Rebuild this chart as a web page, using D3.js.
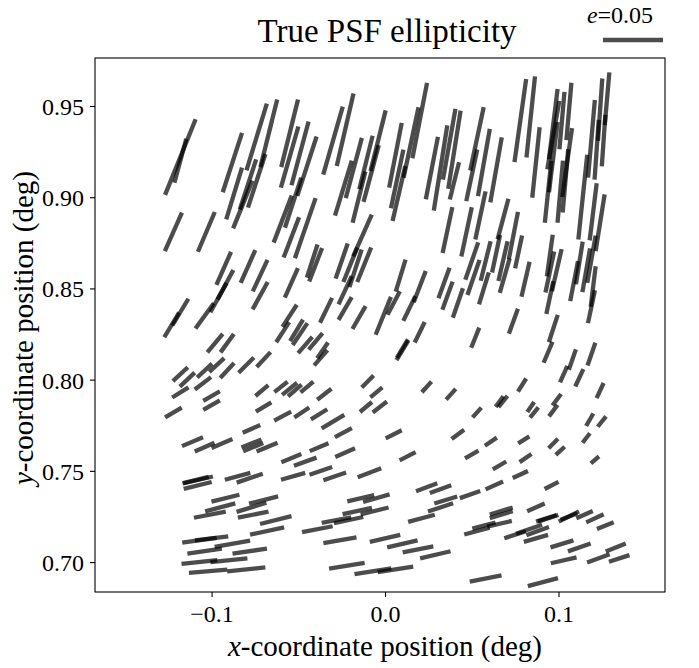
<!DOCTYPE html>
<html><head><meta charset="utf-8">
<script src="https://cdn.jsdelivr.net/npm/d3@7"></script>
<style>
body{margin:0;background:#fff}
text{font-family:"Liberation Serif","DejaVu Serif",serif;fill:#000}
</style>
</head><body>
<svg id="chart" width="699" height="668"></svg>
<script>
// star positions (deg), PSF ellipticity magnitude e, and position angle (deg)
const starX = [
-0.118,-0.118,-0.088,-0.087,-0.082,-0.079,-0.074,-0.074,-0.067,-0.122,-0.103,-0.059,-0.055,-0.055,-0.049,-0.045,-0.053,-0.054,-0.046,-0.030,
-0.023,-0.024,-0.018,-0.015,-0.011,-0.008,-0.004,0.006,0.007,0.008,-0.013,0.015,0.020,0.027,0.032,0.037,0.040,0.036,0.040,0.050,
0.053,0.057,0.064,0.047,0.055,0.068,0.074,0.078,0.084,0.087,0.094,0.097,0.097,0.097,0.101,0.102,0.104,0.106,0.105,0.114,
0.119,0.122,0.124,0.126,0.128,0.120,0.124,
-0.093,-0.079,-0.072,-0.072,-0.096,-0.092,-0.123,-0.118,-0.104,-0.098,-0.091,-0.118,-0.114,-0.104,-0.097,-0.091,-0.080,-0.070,-0.105,-0.118,
-0.100,-0.100,-0.122,-0.071,-0.070,
-0.042,-0.040,-0.054,-0.025,-0.020,-0.017,-0.012,-0.023,-0.023,-0.034,-0.015,-0.001,0.005,0.009,-0.055,-0.059,-0.051,-0.049,-0.046,-0.040,
-0.037,-0.036,-0.060,-0.055,-0.052,-0.045,-0.035,-0.010,-0.005,-0.011,-0.003,-0.059,-0.048,-0.038,-0.030,
0.050,0.051,0.058,0.064,0.068,0.069,0.077,0.081,0.057,0.034,0.036,0.042,0.014,0.020,0.020,0.010,0.010,0.052,0.074,0.024,
0.038,0.053,0.066,0.068,0.079,
0.095,0.095,0.099,0.095,0.109,0.112,0.116,0.119,0.119,0.120,0.097,0.094,0.108,0.119,0.103,0.112,0.124,0.099,0.097,0.084,0.086,
-0.111,-0.104,-0.094,-0.077,-0.077,-0.076,-0.068,-0.108,-0.109,-0.108,-0.085,-0.078,-0.092,-0.095,-0.101,-0.077,-0.070,-0.076,-0.063,-0.068,
-0.107,-0.100,-0.088,-0.104,-0.078,-0.107,-0.090,-0.102,-0.080,
-0.024,0.005,-0.054,-0.046,-0.038,-0.023,-0.053,-0.037,-0.029,-0.009,-0.014,-0.005,-0.016,-0.006,-0.028,-0.021,-0.039,-0.026,0.000,0.010,
-0.022,-0.007,0.006,
0.042,0.061,0.050,0.013,0.066,0.080,0.081,0.078,0.024,0.032,0.049,0.063,0.035,0.032,0.021,0.067,0.067,0.057,0.053,0.066,
0.075,0.083,0.019,0.029,0.058,
0.118,0.125,0.097,0.101,0.116,0.121,0.096,0.087,0.093,0.094,0.106,0.106,0.115,0.121,0.127,0.088,0.087,0.102,0.112,0.133,
0.103,0.123,0.135,0.091
];
const starY = [
0.922,0.920,0.919,0.902,0.896,0.907,0.933,0.909,0.935,0.881,0.881,0.888,0.935,0.922,0.924,0.917,0.897,0.878,0.883,0.931,
0.937,0.905,0.916,0.900,0.919,0.913,0.931,0.923,0.910,0.902,0.879,0.930,0.942,0.916,0.916,0.929,0.926,0.882,0.909,0.912,
0.932,0.919,0.915,0.881,0.890,0.888,0.879,0.942,0.944,0.919,0.903,0.940,0.934,0.922,0.903,0.942,0.909,0.947,0.919,0.900,
0.932,0.926,0.948,0.931,0.954,0.892,0.886,
0.861,0.862,0.857,0.846,0.845,0.852,0.830,0.837,0.835,0.820,0.820,0.803,0.800,0.805,0.808,0.805,0.808,0.811,0.798,0.793,
0.791,0.786,0.782,0.794,0.785,
0.865,0.863,0.853,0.865,0.863,0.861,0.863,0.849,0.839,0.838,0.834,0.835,0.842,0.857,0.835,0.826,0.827,0.825,0.819,0.821,
0.812,0.816,0.796,0.795,0.794,0.796,0.792,0.799,0.793,0.785,0.785,0.780,0.782,0.781,0.777,
0.865,0.856,0.865,0.869,0.865,0.857,0.870,0.855,0.850,0.853,0.846,0.842,0.839,0.851,0.826,0.816,0.817,0.823,0.832,0.796,
0.792,0.782,0.788,0.788,0.797,
0.868,0.859,0.860,0.845,0.854,0.864,0.860,0.866,0.840,0.851,0.828,0.815,0.811,0.814,0.803,0.801,0.794,0.789,0.783,0.785,0.782,
0.766,0.763,0.765,0.773,0.765,0.763,0.763,0.745,0.745,0.742,0.747,0.746,0.735,0.730,0.726,0.730,0.734,0.726,0.723,0.717,
0.712,0.713,0.710,0.706,0.706,0.700,0.701,0.695,0.696,
0.771,0.770,0.757,0.755,0.763,0.760,0.747,0.750,0.747,0.749,0.735,0.735,0.728,0.728,0.723,0.723,0.718,0.712,0.713,0.710,
0.698,0.695,0.696,
0.770,0.766,0.759,0.758,0.753,0.767,0.757,0.748,0.741,0.740,0.737,0.742,0.734,0.730,0.724,0.728,0.726,0.720,0.717,0.721,
0.715,0.718,0.707,0.704,0.691,
0.778,0.777,0.765,0.761,0.768,0.756,0.742,0.730,0.724,0.724,0.725,0.725,0.726,0.724,0.720,0.717,0.713,0.710,0.708,0.708,
0.701,0.702,0.702,0.689
];
const starE = [
0.068,0.038,0.052,0.045,0.043,0.044,0.058,0.047,0.058,0.035,0.036,0.042,0.058,0.053,0.055,0.052,0.044,0.036,0.053,0.059,
0.062,0.048,0.052,0.044,0.046,0.049,0.052,0.055,0.050,0.047,0.038,0.060,0.064,0.053,0.072,0.060,0.066,0.039,0.032,0.044,
0.054,0.057,0.055,0.042,0.041,0.035,0.040,0.070,0.068,0.059,0.052,0.059,0.058,0.059,0.052,0.048,0.053,0.048,0.058,0.071,
0.065,0.050,0.052,0.043,0.044,0.048,0.048,
0.030,0.030,0.029,0.026,0.028,0.028,0.024,0.026,0.026,0.020,0.019,0.017,0.017,0.017,0.017,0.017,0.018,0.017,0.017,0.016,
0.016,0.016,0.016,0.014,0.015,
0.029,0.030,0.027,0.031,0.031,0.033,0.031,0.026,0.022,0.023,0.022,0.034,0.022,0.028,0.022,0.020,0.021,0.022,0.018,0.018,
0.017,0.016,0.014,0.016,0.015,0.014,0.015,0.014,0.013,0.013,0.015,0.016,0.015,0.016,0.022,
0.033,0.031,0.034,0.032,0.034,0.030,0.028,0.030,0.028,0.027,0.025,0.026,0.023,0.028,0.019,0.019,0.018,0.018,0.022,0.012,
0.012,0.011,0.011,0.012,0.013,
0.035,0.035,0.036,0.028,0.034,0.036,0.037,0.040,0.028,0.034,0.024,0.019,0.018,0.020,0.015,0.016,0.014,0.012,0.012,0.010,0.011,
0.019,0.018,0.019,0.016,0.018,0.018,0.019,0.026,0.022,0.024,0.022,0.023,0.024,0.026,0.027,0.026,0.025,0.026,0.027,0.029,
0.029,0.028,0.030,0.029,0.029,0.030,0.031,0.032,0.032,
0.016,0.015,0.018,0.020,0.017,0.018,0.021,0.020,0.020,0.021,0.023,0.023,0.025,0.024,0.025,0.025,0.026,0.028,0.026,0.026,
0.030,0.031,0.030,
0.013,0.012,0.013,0.015,0.013,0.011,0.012,0.014,0.019,0.019,0.018,0.016,0.020,0.022,0.023,0.020,0.020,0.020,0.022,0.021,
0.019,0.023,0.026,0.026,0.027,
0.012,0.011,0.011,0.010,0.010,0.009,0.013,0.016,0.018,0.018,0.019,0.015,0.015,0.016,0.015,0.020,0.021,0.020,0.020,0.018,
0.022,0.020,0.018,0.026
];
const starAngle = [
68,75,72,73,68,72,73,72,76,66,67,69,76,74,75,72,72,69,71,74,
77,73,75,76,76,75,76,79,78,77,66,78,79,79,81,80,81,78,76,78,
78,80,80,78,78,75,79,82,84,84,84,83,80,83,85,85,85,85,82,84,
85,86,86,86,85,83,81,
66,66,65,61,61,62,59,59,54,50,54,43,43,43,43,47,45,47,37,32,
30,30,30,40,31,
72,69,66,71,68,72,68,65,60,64,60,68,62,73,57,57,59,56,49,50,
49,55,38,39,41,40,38,45,40,40,38,28,34,32,31,
71,71,76,78,77,74,78,77,73,70,70,71,64,69,64,59,59,68,70,48,
48,48,54,51,58,
82,78,77,78,79,81,80,80,78,83,72,67,71,71,66,65,65,53,53,55,51,
23,24,23,24,22,22,23,13,14,14,15,19,14,15,11,17,14,11,14,12,
8,7,10,8,8,6,6,5,6,
28,27,22,20,23,24,16,19,19,21,13,16,12,14,11,12,11,10,13,13,
9,9,9,
37,34,30,27,30,32,34,25,21,20,19,24,17,18,15,17,17,15,15,13,
18,19,11,13,11,
60,51,45,42,52,41,27,24,18,18,27,21,24,25,22,20,16,17,19,22,
13,20,18,15
];
const xTicks = [-0.1, 0.0, 0.1];
const yTicks = [0.70, 0.75, 0.80, 0.85, 0.90, 0.95];
const keyE = 0.05;
const titleText = "True PSF ellipticity";

const svg = d3.select("#chart");
const L = 95, R = 665, T = 58, B = 592;
const x = d3.scaleLinear().domain([-0.1672, 0.1614]).range([L, R]);
const y = d3.scaleLinear().domain([0.6836, 0.9763]).range([B, T]);
const eLen = d3.scaleLinear().domain([0, keyE]).range([0, 60]);

const stars = starX.map((v, i) => ({x: v, y: starY[i], e: starE[i], a: starAngle[i]}));

const g = svg.append("g");
g.selectAll("line.w").data(stars).join("line")
  .attr("class", "w")
  .each(function(d){
    const cx = x(d.x), cy = y(d.y), h = eLen(d.e) / 2, t = d.a * Math.PI / 180;
    d3.select(this)
      .attr("x1", cx - h * Math.cos(t)).attr("y1", cy + h * Math.sin(t))
      .attr("x2", cx + h * Math.cos(t)).attr("y2", cy - h * Math.sin(t));
  })
  .attr("stroke", "#000").attr("stroke-opacity", 0.7)
  .attr("stroke-width", 4.3).attr("stroke-linecap", "butt");

// axes
const fmtX = d => d === 0 ? "0.0" : (d < 0 ? "\u2212" : "") + Math.abs(d).toFixed(1);
const xAxis = svg.append("g").attr("transform", `translate(0,${B})`)
  .call(d3.axisBottom(x).tickValues(xTicks).tickFormat(fmtX).tickSize(5).tickPadding(5));
const yAxis = svg.append("g").attr("transform", `translate(${L},0)`)
  .call(d3.axisLeft(y).tickValues(yTicks).tickFormat(d3.format(".2f")).tickSize(5).tickPadding(6));
[xAxis, yAxis].forEach(a => {
  a.select(".domain").remove();
  a.selectAll(".tick line").attr("stroke", "#000").attr("stroke-width", 1.1);
  a.selectAll(".tick text").attr("font-family", "Liberation Serif").attr("font-size", 24).attr("fill", "#000");
});
xAxis.selectAll(".tick text").attr("dy", "0.85em");
yAxis.selectAll(".tick text").attr("dy", "0.35em");

svg.append("rect").attr("x", L).attr("y", T).attr("width", R - L).attr("height", B - T)
  .attr("fill", "none").attr("stroke", "#000").attr("stroke-width", 1.1);

// title
svg.append("text").attr("x", 387).attr("y", 42).attr("text-anchor", "middle")
  .attr("font-size", 33).text(titleText);

// key
const key = svg.append("g");
const kt = key.append("text").attr("x", 620).attr("y", 23).attr("text-anchor", "middle").attr("font-size", 24);
kt.append("tspan").attr("font-style", "italic").text("e");
kt.append("tspan").text("=0.05");
key.append("line").attr("x1", 603).attr("x2", 603 + eLen(keyE)).attr("y1", 40).attr("y2", 40)
  .attr("stroke", "#000").attr("stroke-opacity", 0.7).attr("stroke-width", 4.3);

// axis labels
const xl = svg.append("text").attr("x", 385).attr("y", 656).attr("text-anchor", "middle").attr("font-size", 29);
xl.append("tspan").attr("font-style", "italic").text("x");
xl.append("tspan").text("-coordinate position (deg)");
const yl = svg.append("text").attr("transform", "translate(33,328) rotate(-90)").attr("text-anchor", "middle").attr("font-size", 29);
yl.append("tspan").attr("font-style", "italic").text("y");
yl.append("tspan").text("-coordinate position (deg)");
</script>
</body></html>
